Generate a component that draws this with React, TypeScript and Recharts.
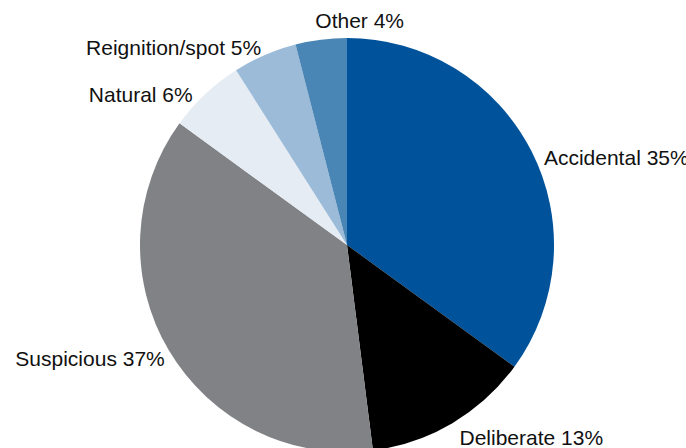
import { PieChart, Pie, Cell } from 'recharts';

const categories = ['Accidental', 'Deliberate', 'Suspicious', 'Natural', 'Reignition/spot', 'Other'];
const shares = [35, 13, 37, 6, 5, 4];
const colors = ['#00539A', '#000000', '#808285', '#E5ECF4', '#9BBBD8', '#4A86B5'];
// small hand nudges so the labels sit where the original put them
const labelNudge = [[0, 13], [0, 2], [8, 1], [-3, 11], [2, 5], [-4, -5]];

const data = categories.map((name, i) => ({ name, value: shares[i] }));

const RADIAN = Math.PI / 180;

const renderLabel = (props: any) => {
    const { cx, cy, midAngle, outerRadius, name, value, index } = props;
    const r = outerRadius + 14;
    const cos = Math.cos(-midAngle * RADIAN);
    const sin = Math.sin(-midAngle * RADIAN);
    const [dx, dy] = labelNudge[index] || [0, 0];
    const x = cx + r * cos + dx;
    const y = cy + r * sin + dy;
    return (
        <text
            x={x}
            y={y}
            textAnchor={cos > -0.2 ? 'start' : 'end'}
            dominantBaseline="central"
            fill="#111"
            fontSize={21}
            fontFamily="'Liberation Sans', Arial, sans-serif"
        >
            {`${name} ${value}%`}
        </text>
    );
};

export default function App() {
    return (
        <div style={{ position: 'absolute', left: 0, top: 0, width: 686, height: 448, background: '#fff', overflow: 'hidden' }}>
            <PieChart width={686} height={448} margin={{ top: 0, right: 0, bottom: 0, left: 0 }}>
                <Pie
                    data={data}
                    dataKey="value"
                    nameKey="name"
                    cx={347}
                    cy={245}
                    outerRadius={207}
                    startAngle={90}
                    endAngle={-270}
                    stroke="none"
                    label={renderLabel}
                    labelLine={false}
                    isAnimationActive={false}
                >
                    {data.map((entry, index) => (
                        <Cell key={`cell-${index}`} fill={colors[index]} />
                    ))}
                </Pie>
            </PieChart>
        </div>
    );
}
